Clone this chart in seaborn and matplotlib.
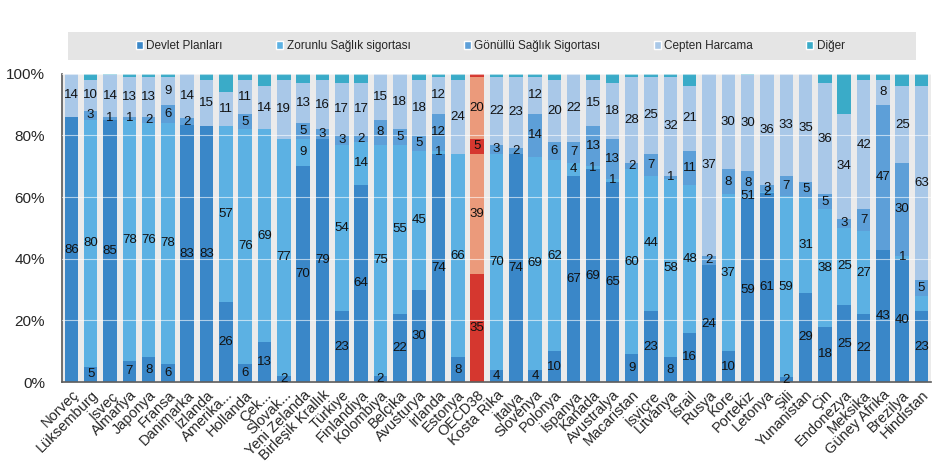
import numpy as np
import seaborn as sns
import matplotlib.pyplot as plt
from matplotlib.patches import Patch, Rectangle
from matplotlib.ticker import PercentFormatter

countries = ["Norveç", "Lüksemburg", "İsveç", "Almanya", "Japonya", "Fransa", "Danimarka",
             "İzlanda", "Amerika...", "Hollanda", "Çek...", "Slovak...", "Yeni Zelanda",
             "Birleşik Krallık", "Türkiye", "Finlandiya", "Kolombiya", "Belçika", "Avusturya",
             "İrlanda", "Estonya", "OECD38", "Kosta Rika", "İtalya", "Slovenya", "Polonya",
             "İspanya", "Kanada", "Avustralya", "Macaristan", "İsviçre", "Litvanya", "İsrail",
             "Rusya", "Kore", "Portekiz", "Letonya", "Şili", "Yunanistan", "Çin", "Endonezya",
             "Meksika", "Güney Afrika", "Brezilya", "Hindistan"]

# segment heights (%)
devlet = [86, 5, 85, 7, 8, 6, 83.4, 83, 26, 6, 13, 2, 70, 79, 23, 64, 2, 22, 30, 74, 8, 35, 4, 74,
          4, 10, 67, 69, 65, 9, 23, 8, 16, 38, 10, 60, 61.4, 1.5, 29, 18, 25, 22, 43, 40, 23]
zorunlu = [0, 80, 0, 78, 76, 78, 0, 0, 57, 76, 69, 77, 9, 0, 54, 14, 75, 55, 45, 1, 66, 39, 70, 0,
           69, 62, 4, 1, 1, 60, 44, 58, 48, 0, 51, 0.5, 0.3, 59, 31, 38, 25, 27, 0, 1, 5]
gonullu = [0, 3, 1, 1, 2, 6, 2.2, 0, 0, 5, 0, 0, 5, 3, 3, 2, 8, 5, 5, 12, 0, 5, 3, 2,
           14, 6, 7, 13, 13, 2, 7, 1, 11, 3, 8, 8, 2.2, 6.5, 5, 5, 3, 7, 47, 30, 5]
cepten = [14, 10, 13.5, 13, 13, 9, 14.4, 15, 11, 11, 14, 19, 13, 16, 17, 17, 15, 18, 18, 12, 24, 20,
          22, 23, 12, 20, 22, 15, 18, 28, 25, 32, 21, 59, 31, 31, 35.9, 33, 35, 36, 34, 42, 8, 25, 63]
diger = [0, 2, 0.5, 1, 1, 1, 0, 2, 6, 2, 4, 2, 3, 2, 3, 3, 0, 0, 2, 1, 2, 1, 1, 1,
         1, 2, 0, 2, 3, 1, 1, 1, 4, 0, 0, 0.5, 0.2, 0, 0, 3, 13, 2, 2, 4, 4]

series_names = ["Devlet Planları", "Zorunlu Sağlık sigortası", "Gönüllü Sağlık Sigortası",
                "Cepten Harcama", "Diğer"]

# labels printed in the picture that differ from the drawn heights
label_fix = {
    ("Rusya", 0): "24", ("Rusya", 2): "2", ("Rusya", 3): "37",
    ("Kore", 1): "37", ("Kore", 3): "30",
    ("Portekiz", 0): "59", ("Portekiz", 1): "51", ("Portekiz", 3): "30",
    ("Letonya", 1): "2", ("Letonya", 2): "3",
    ("Hindistan", 1): "",
}

blues = ["#3a87c8", "#5cb1e3", "#5d9fd8", "#a9c8e8", "#3aabc8"]
reds = ["#d5372f", "#eb9a7b", "#d5372f", "#eb9a7b", "#d5372f"]
highlight = "OECD38"

sns.set_style("white")
plt.rcParams["font.family"] = ["Liberation Sans", "DejaVu Sans"]

fig = plt.figure(figsize=(9.34, 4.70), dpi=100)
ax = fig.add_axes([0.066, 0.187, 0.931, 0.656])
ax.set_facecolor("#ebebeb")

values = np.array([devlet, zorunlu, gonullu, cepten, diger], dtype=float)
tops = values.cumsum(axis=0)
hi = countries.index(highlight)
n = len(countries)

# stacked bars: draw cumulative totals from the top layer down
for k in range(4, -1, -1):
    sns.barplot(x=countries, y=tops[k], color=blues[k], saturation=1, width=0.7,
                linewidth=0, errorbar=None, ax=ax)
    ax.containers[-1][hi].set_facecolor(reds[k])

for k in range(4):
    for i, c in enumerate(countries):
        v = values[k, i]
        txt = str(int(v + 0.5)) if int(v + 0.5) >= 1 else ""
        txt = label_fix.get((c, k), txt)
        if txt:
            ax.text(i, tops[k, i] - v / 2, txt, ha="center", va="center",
                    fontsize=9.5, color="#111111", zorder=4)

ax.set_xlim(-0.5, n - 0.5)
ax.set_ylim(0, 100)
ax.set_yticks(range(0, 101, 20))
ax.yaxis.set_major_formatter(PercentFormatter(100, decimals=0))
ax.set_xticks(range(n))
ax.set_xticklabels(countries, rotation=45, ha="right", rotation_mode="anchor", fontsize=10.5)
ax.set_xticks(np.arange(n - 1) + 0.5, minor=True)
ax.tick_params(axis="x", which="major", length=0, pad=4)
ax.tick_params(axis="x", which="minor", direction="in", length=4, color="#595959")
ax.tick_params(axis="y", direction="in", length=3, labelsize=11, pad=12, color="#595959")
ax.set_xlabel("")
ax.set_ylabel("")
ax.yaxis.grid(True, color="white", linewidth=0.8, alpha=0.6)
ax.set_axisbelow(False)
for s in ["top", "right"]:
    ax.spines[s].set_visible(False)
for s in ["left", "bottom"]:
    ax.spines[s].set_color("#595959")
    ax.spines[s].set_linewidth(1.2)

fig.add_artist(Rectangle((0.073, 0.872), 0.908, 0.06, transform=fig.transFigure,
                         facecolor="#e5e5e5", edgecolor="none", zorder=0))
handles = [Patch(facecolor=c) for c in blues]
fig.legend(handles, series_names, loc="center", bbox_to_anchor=(0.525, 0.902), ncol=5,
           frameon=False, fontsize=8.5, handlelength=0.6, handleheight=0.6,
           handletextpad=0.3, columnspacing=4.5)

fig.savefig("out.png", dpi=100)
